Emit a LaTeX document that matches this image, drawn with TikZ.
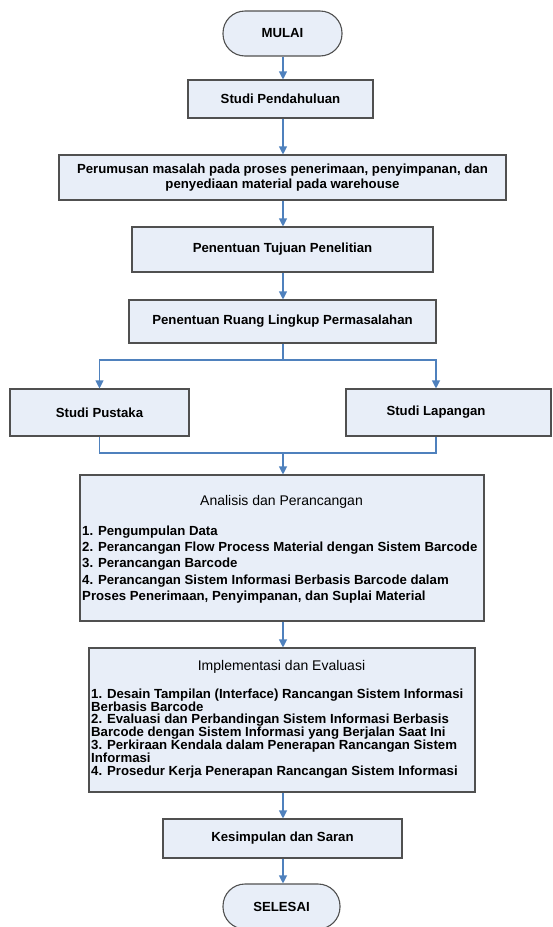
\documentclass[tikz,border=0pt]{standalone}
\usepackage{fontspec}
\setmainfont{Liberation Sans}
\usetikzlibrary{arrows.meta}
\definecolor{boxfill}{HTML}{E8EEF8}
\definecolor{boxline}{HTML}{505050}
\definecolor{flow}{HTML}{4F81BD}
\begin{document}
\begin{tikzpicture}[x=1pt,y=-1pt,
  procbox/.style={draw=boxline,fill=boxfill,line width=1.1pt,inner sep=0pt,
    font=\fontsize{13.2}{15}\selectfont\bfseries,align=center},
  terminal/.style={procbox,rounded corners=22pt},
  boxtext/.style={inner sep=0pt,font=\fontsize{13.2}{15}\selectfont\bfseries},
  titletext/.style={inner sep=0pt,font=\fontsize{14}{16}\selectfont},
  flowline/.style={draw=flow,line width=1.1pt},
  arrowline/.style={flowline,-{Triangle[length=8pt,width=8pt]}}]
\useasboundingbox (0,0) rectangle (552,927);

% start / end terminals
\node[terminal,minimum width=119pt,minimum height=45pt] (mulai) at (282.5,33.5) {MULAI};

% main process chain
\node[procbox,minimum width=185pt,minimum height=38pt] (pend) at (280.5,99) {Studi Pendahuluan};
\node[procbox,minimum width=447pt,minimum height=45pt] (perum) at (282.5,177.5)
  {Perumusan masalah pada proses penerimaan, penyimpanan, dan\\penyediaan material pada warehouse};
\node[procbox,minimum width=301pt,minimum height=45pt] (tujuan) at (282.5,249.5) {Penentuan Tujuan Penelitian};
\node[procbox,minimum width=307pt,minimum height=43pt] (ruang) at (282.5,321.5) {Penentuan Ruang Lingkup Permasalahan};

% parallel studies
\node[procbox,minimum width=179pt,minimum height=47pt] (pustaka) at (99.5,412.5) {Studi Pustaka};
\node[procbox,minimum width=205pt,minimum height=47pt] (lapbox) at (448.5,412.5) {};
\node[boxtext] (laptext) at (436,412.5) {Studi Lapangan};

% analysis block
\node[procbox,minimum width=404pt,minimum height=146pt] (analisis) at (282,548) {};
\node[titletext] (antitle) at (281.5,502) {Analisis dan Perancangan};
\node[boxtext,anchor=north west,align=left,font=\fontsize{13.2}{16.25}\selectfont\bfseries] (anlist) at (82,525.5)
  {1. Pengumpulan Data\\
   2. Perancangan Flow Process Material dengan Sistem Barcode\\
   3. Perancangan Barcode\\
   4. Perancangan Sistem Informasi Berbasis Barcode dalam\\
   Proses Penerimaan, Penyimpanan, dan Suplai Material};

% implementation block
\node[procbox,minimum width=386pt,minimum height=144pt] (impl) at (282,720) {};
\node[titletext] (imtitle) at (281.5,667) {Implementasi dan Evaluasi};
\node[boxtext,anchor=north west,align=left,font=\fontsize{13.2}{12.8}\selectfont\bfseries] (imlist) at (91,688.5)
  {1. Desain Tampilan (Interface) Rancangan Sistem Informasi\\
   Berbasis Barcode\\
   2. Evaluasi dan Perbandingan Sistem Informasi Berbasis\\
   Barcode dengan Sistem Informasi yang Berjalan Saat Ini\\
   3. Perkiraan Kendala dalam Penerapan Rancangan Sistem\\
   Informasi\\
   4. Prosedur Kerja Penerapan Rancangan Sistem Informasi};

\node[procbox,minimum width=239pt,minimum height=39pt] (kesimp) at (282.5,838.5) {Kesimpulan dan Saran};
\node[terminal,minimum width=117pt,minimum height=45pt] (selesai) at (281.5,906.5) {SELESAI};

% connectors
\coordinate (split) at (283,360);
\coordinate (merge) at (283,453);
\draw[arrowline] (283,0 |- mulai.south) -- (283,0 |- pend.north);
\draw[arrowline] (283,0 |- pend.south) -- (283,0 |- perum.north);
\draw[arrowline] (283,0 |- perum.south) -- (283,0 |- tujuan.north);
\draw[arrowline] (283,0 |- tujuan.south) -- (283,0 |- ruang.north);
\draw[flowline] (283,0 |- ruang.south) -- (split);
\draw[arrowline] (split) -| (pustaka.north);
\draw[arrowline] (split) -| (laptext |- lapbox.north);
\draw[flowline] (pustaka.south) |- (merge) -| (laptext |- lapbox.south);
\draw[arrowline] (merge) -- (283,0 |- analisis.north);
\draw[arrowline] (283,0 |- analisis.south) -- (283,0 |- impl.north);
\draw[arrowline] (283,0 |- impl.south) -- (283,0 |- kesimp.north);
\draw[arrowline] (283,0 |- kesimp.south) -- (283,0 |- selesai.north);
\end{tikzpicture}
\end{document}
